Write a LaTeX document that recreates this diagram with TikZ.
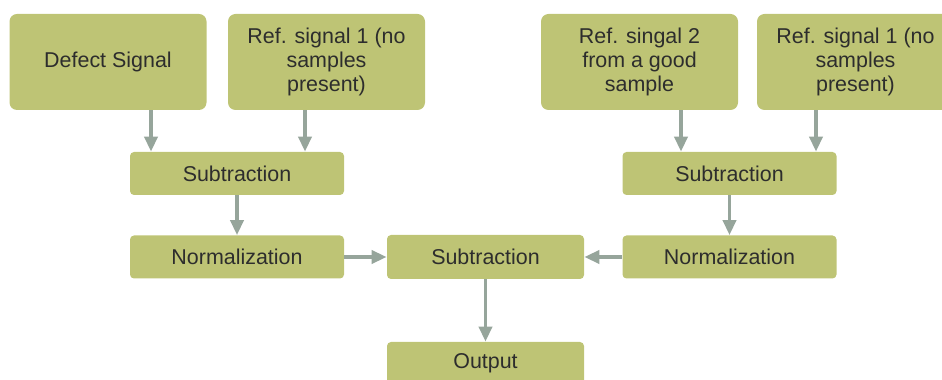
\documentclass[tikz,border=0pt]{standalone}
\usepackage{fontspec}
\setmainfont{Liberation Sans}
\usetikzlibrary{arrows.meta}

\definecolor{boxgreen}{RGB}{190,196,117}
\definecolor{arrowgrey}{RGB}{150,165,155}
\definecolor{textgrey}{RGB}{45,45,45}

\tikzset{
  bigbox/.style={fill=boxgreen, rounded corners=0.15cm, align=center, text=textgrey,
    minimum width=3.94cm, minimum height=1.92cm, inner sep=0pt,
    font=\fontsize{12.2}{13.6}\selectfont},
  smallbox/.style={fill=boxgreen, rounded corners=0.08cm, align=center, text=textgrey,
    minimum width=4.28cm, minimum height=0.86cm, inner sep=0pt,
    font=\fontsize{12.2}{13.6}\selectfont},
  flow/.style={draw=arrowgrey, line width=0.07cm, -{Triangle[length=0.3cm,width=0.26cm]}}
}

\begin{document}
\begin{tikzpicture}
\clip (0,0) rectangle (18.84,-7.6);

\node[bigbox] (defect) at (2.16,-1.24) {Defect Signal};
\node[bigbox] (refa) at (6.53,-1.24) {Ref. signal 1 (no\\samples\\present)};
\node[bigbox] (refb) at (12.79,-1.24) {Ref. singal 2\\from a good\\sample};
\node[bigbox] (refc) at (17.11,-1.24) {Ref. signal 1 (no\\samples\\present)};

\node[smallbox] (subl) at (4.74,-3.47) {Subtraction};
\node[smallbox] (norml) at (4.74,-5.14) {Normalization};

\node[smallbox] (subr) at (14.59,-3.47) {Subtraction};
\node[smallbox] (normr) at (14.59,-5.14) {Normalization};

\node[smallbox, minimum width=3.94cm, minimum height=0.88cm] (mid) at (9.71,-5.14) {Subtraction};
\node[smallbox, minimum width=3.94cm, minimum height=0.84cm] (output) at (9.71,-7.26) {Output};

\draw[flow] ([xshift=0.86cm]defect.south) -- ([xshift=0.86cm]defect.south |- subl.north);
\draw[flow] ([xshift=-0.43cm]refa.south) -- ([xshift=-0.43cm]refa.south |- subl.north);
\draw[flow] (subl) -- (norml);

\draw[flow] ([xshift=0.83cm]refb.south) -- ([xshift=0.83cm]refb.south |- subr.north);
\draw[flow] ([xshift=-0.79cm]refc.south) -- ([xshift=-0.79cm]refc.south |- subr.north);
\draw[flow] (subr) -- (normr);

\draw[flow] (norml) -- (mid);
\draw[flow] (normr) -- (mid);
\draw[flow] (mid) -- (output);
\end{tikzpicture}
\end{document}
